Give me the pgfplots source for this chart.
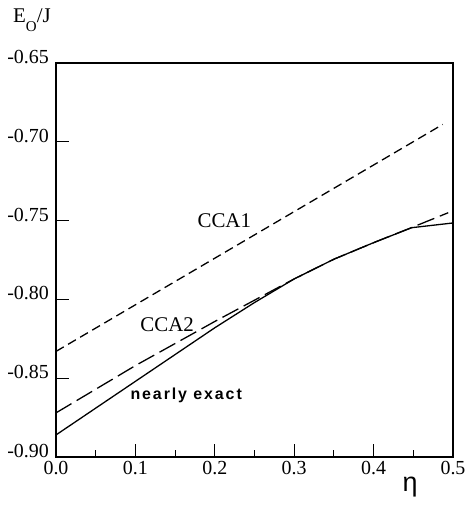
\documentclass[border=0pt]{standalone}
\usepackage{fontspec}
\setmainfont{Liberation Serif}
\newfontfamily\lblsans[LetterSpace=12]{Liberation Sans}
\newfontfamily\etafont{Liberation Sans}
\usepackage{pgfplots}
\pgfplotsset{compat=1.18}
\begin{document}
\begin{tikzpicture}
\begin{axis}[
  scale only axis, width=397bp, height=394bp,
  xmin=0, xmax=0.5, ymin=-0.90, ymax=-0.65,
  xtick={0,0.1,0.2,0.3,0.4,0.5},
  xticklabels={0.0,0.1,0.2,0.3,0.4,0.5},
  minor xtick={0.05,0.15,0.25,0.35,0.45},
  ytick={-0.90,-0.85,-0.80,-0.75,-0.70,-0.65},
  yticklabels={-0.90,-0.85,-0.80,-0.75,-0.70,-0.65},
  tick pos=left,
  tick align=inside,
  major tick length=13bp, minor tick length=7bp,
  every tick/.style={black, line width=1.1pt},
  axis line style={line width=1.3pt},
  ticklabel style={font=\fontsize{20}{20}\selectfont, inner sep=1bp},
  xticklabel style={yshift=-3bp},
  yticklabel style={yshift=6bp, xshift=-6bp},
  clip=false,
]
\addplot[black, line width=1.3pt, dash pattern=on 9bp off 5bp] coordinates {(0,-0.833) (0.487,-0.689)};
\addplot[black, line width=1.3pt, dash pattern=on 18bp off 6bp] coordinates {
 (0,-0.872) (0.1,-0.842) (0.2,-0.814) (0.3,-0.787) (0.35,-0.7745) (0.4,-0.764) (0.45,-0.754) (0.494,-0.745)};
\addplot[black, line width=1.3pt] coordinates {
 (0,-0.886) (0.05,-0.869) (0.1,-0.852) (0.15,-0.835) (0.2,-0.818) (0.25,-0.802) (0.3,-0.787) (0.35,-0.7745) (0.4,-0.764) (0.448,-0.7545) (0.5,-0.7515)};
\node[font=\fontsize{21}{21}\selectfont] at (axis cs:0.212,-0.750) {CCA1};
\node[font=\fontsize{21}{21}\selectfont] at (axis cs:0.140,-0.816) {CCA2};
\node[font=\fontsize{16}{16}\lblsans\bfseries] at (axis cs:0.164,-0.861) {nearly exact};
\end{axis}
\node[anchor=base west, inner sep=0, font=\fontsize{21}{21}\selectfont] at ([xshift=-43bp,yshift=40bp]current axis.north west) {E\raisebox{-9bp}{\fontsize{15}{15}\selectfont O}/J};
\node[inner sep=0, font=\fontsize{27}{27}\etafont] at ([xshift=354bp,yshift=-30bp]current axis.south west) {η};
\pgfresetboundingbox
\path ([xshift=-56bp,yshift=-51bp]current axis.south west) rectangle ([xshift=12bp,yshift=63bp]current axis.north east);
\end{tikzpicture}
\end{document}
